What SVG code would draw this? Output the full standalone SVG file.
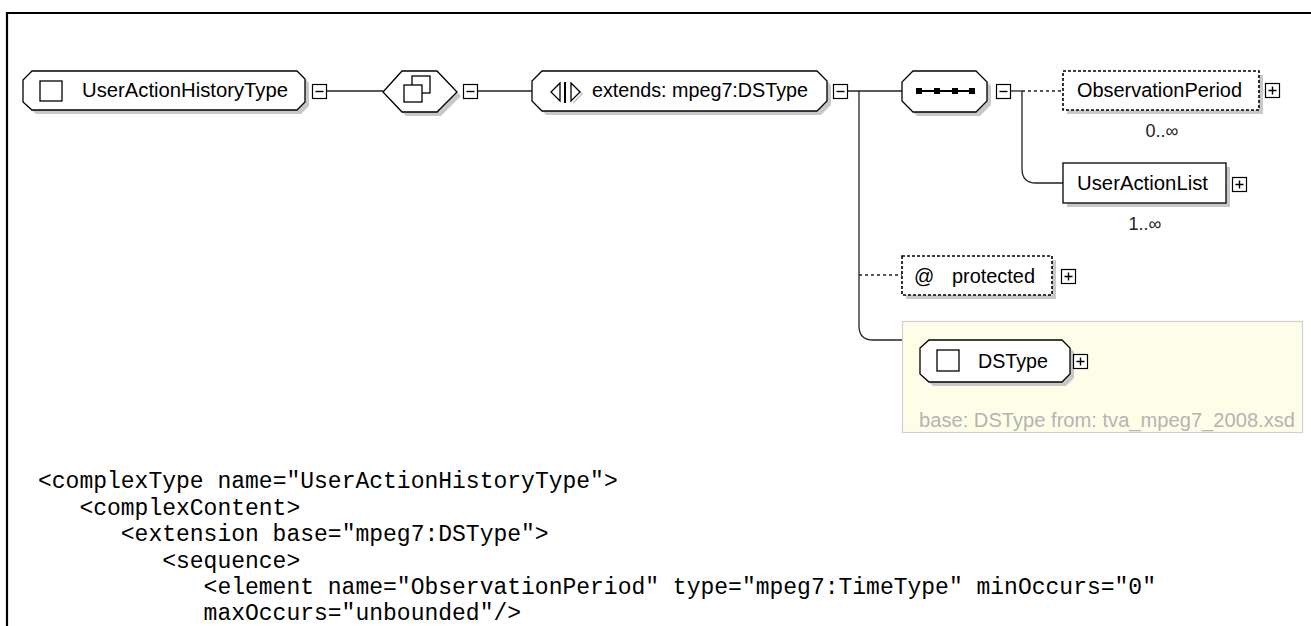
<svg xmlns="http://www.w3.org/2000/svg" width="1311" height="626" viewBox="0 0 1311 626">
<defs>
<style>
.lbl{font-family:"Liberation Sans",Arial,sans-serif;font-size:20px;fill:#000}
.occ{font-family:"Liberation Sans",Arial,sans-serif;font-size:18px;fill:#222}
.base{font-family:"Liberation Sans",Arial,sans-serif;font-size:20px;fill:#b4b4b4}
.code{font-family:"Liberation Mono","Courier New",monospace;font-size:23px;fill:#000}
.box{fill:#fff;stroke:#000;stroke-width:1.3}
.dbox{fill:#fff;stroke:#000;stroke-width:1.6;stroke-dasharray:3 2}
.shd{fill:#c8c8c8}
.con{fill:none;stroke:#222;stroke-width:1.3}
.dot{fill:none;stroke:#222;stroke-width:1.3;stroke-dasharray:3 3}
.pm{fill:#fff;stroke:#000;stroke-width:1.2}
.pml{stroke:#000;stroke-width:1.4;fill:none}
</style>
<g id="minus"><rect class="pm" x="0.5" y="0.5" width="14" height="14"/><path class="pml" d="M3.5 7.5H11.5"/></g>
<g id="plus"><rect class="pm" x="0.5" y="0.5" width="14" height="14"/><path class="pml" d="M3.5 7.5H11.5M7.5 3.5V11.5"/></g>
</defs>
<rect width="1311" height="626" fill="#fff"/>
<path d="M7 626V13H1311" fill="none" stroke="#000" stroke-width="2.2"/>

<g id="connectors">
<path class="con" d="M327 91H383"/>
<path class="con" d="M478 91H532"/>
<path class="con" d="M848 91H902"/>
<path class="con" d="M859 91V326Q859 340 873 340H903"/>
<path class="dot" d="M859 275H902"/>
<path class="con" d="M1010 91H1022"/>
<path class="dot" d="M1022 91H1063"/>
<path class="con" d="M1022 91V169Q1022 183 1036 183H1063"/>
</g>

<g id="node-UserActionHistoryType">
<path class="shd" d="M36 75H302L309 83V106L301 114H36L27 106V83Z"/>
<path class="box" d="M32 71H297L305 79V102L297 110H32L23 102V80Z"/>
<rect class="box" x="40" y="81" width="22" height="20"/>
<text class="lbl" x="82" y="97" textLength="206" lengthAdjust="spacingAndGlyphs">UserActionHistoryType</text>
<use href="#minus" x="312" y="84"/>
</g>

<g id="node-complexContent">
<path class="shd" d="M387 96L406 75H441L461 96L441 116H406Z"/>
<path class="box" d="M383 92L402 71H437L457 92L437 112H402Z"/>
<rect class="box" x="412" y="76" width="18" height="17"/>
<rect class="box" x="404" y="85" width="18" height="17"/>
<use href="#minus" x="463" y="84"/>
</g>

<g id="node-extends">
<path class="shd" d="M546 75H821L831 85V105L821 115H546L536 105V85Z"/>
<path class="box" d="M542 71H817L827 81V101L817 111H542L532 101V81Z"/>
<path d="M560 83L551 92L560 101Z" fill="#fff" stroke="#000" stroke-width="1.3"/>
<path d="M565 82V103" stroke="#000" stroke-width="2"/>
<path d="M573 85L582 94L573 103" fill="none" stroke="#bbb" stroke-width="1.3"/>
<path d="M571 83L580 92L571 101Z" fill="#fff" stroke="#000" stroke-width="1.3"/>
<text class="lbl" x="592" y="97" textLength="216" lengthAdjust="spacingAndGlyphs">extends: mpeg7:DSType</text>
<use href="#minus" x="833" y="84"/>
</g>

<g id="node-sequence">
<path class="shd" d="M917 75H980L991 86V105L980 116H917L906 105V86Z"/>
<path class="box" d="M913 71H976L987 82V101L976 112H913L902 101V82Z"/>
<path d="M918 91H972" stroke="#000" stroke-width="2"/>
<rect x="916" y="88" width="6" height="6" fill="#000"/>
<rect x="934" y="88" width="6" height="6" fill="#000"/>
<rect x="952" y="88" width="6" height="6" fill="#000"/>
<rect x="969" y="88" width="6" height="6" fill="#000"/>
<use href="#minus" x="996" y="84"/>
</g>

<g id="node-ObservationPeriod">
<rect class="shd" x="1067" y="75" width="196" height="39"/>
<rect class="dbox" x="1063" y="71" width="196" height="39"/>
<text class="lbl" x="1077" y="97" textLength="165" lengthAdjust="spacingAndGlyphs">ObservationPeriod</text>
<use href="#plus" x="1265" y="83"/>
<text class="occ" x="1162" y="137" text-anchor="middle">0..∞</text>
</g>

<g id="node-UserActionList">
<rect class="shd" x="1067" y="167" width="163" height="40"/>
<rect class="box" x="1063" y="163" width="163" height="40"/>
<text class="lbl" x="1077" y="190" textLength="131" lengthAdjust="spacingAndGlyphs">UserActionList</text>
<use href="#plus" x="1232" y="177"/>
<text class="occ" x="1145" y="230" text-anchor="middle">1..∞</text>
</g>

<g id="node-protected">
<rect class="shd" x="906" y="260" width="150" height="39"/>
<rect class="dbox" x="902" y="256" width="150" height="39"/>
<text class="lbl" x="914" y="283">@</text>
<text class="lbl" x="952" y="283" textLength="83" lengthAdjust="spacingAndGlyphs">protected</text>
<use href="#plus" x="1061" y="269"/>
</g>

<g id="node-DSType">
<rect x="902.5" y="321.5" width="400" height="111" fill="#fefee8" stroke="#cfcfcf" stroke-width="1.2"/>
<path class="shd" d="M933 344H1066L1074 352V378L1066 386H933L924 378V352Z"/>
<path class="box" d="M929 340H1062L1070 348V374L1062 382H929L920 374V348Z"/>
<rect class="box" x="937" y="350" width="22" height="21"/>
<text class="lbl" x="978" y="368" textLength="70" lengthAdjust="spacingAndGlyphs">DSType</text>
<use href="#plus" x="1073" y="354"/>
<text class="base" x="919" y="427" textLength="376" lengthAdjust="spacingAndGlyphs">base: DSType from: tva_mpeg7_2008.xsd</text>
</g>

<g id="code">
<text class="code" x="38" y="488">&lt;complexType name="UserActionHistoryType"&gt;</text>
<text class="code" x="79.4" y="514.5">&lt;complexContent&gt;</text>
<text class="code" x="120.8" y="541">&lt;extension base="mpeg7:DSType"&gt;</text>
<text class="code" x="162.2" y="567.5">&lt;sequence&gt;</text>
<text class="code" x="203.6" y="594">&lt;element name="ObservationPeriod" type="mpeg7:TimeType" minOccurs="0"</text>
<text class="code" x="203.6" y="620">maxOccurs="unbounded"/&gt;</text>
</g>
</svg>
